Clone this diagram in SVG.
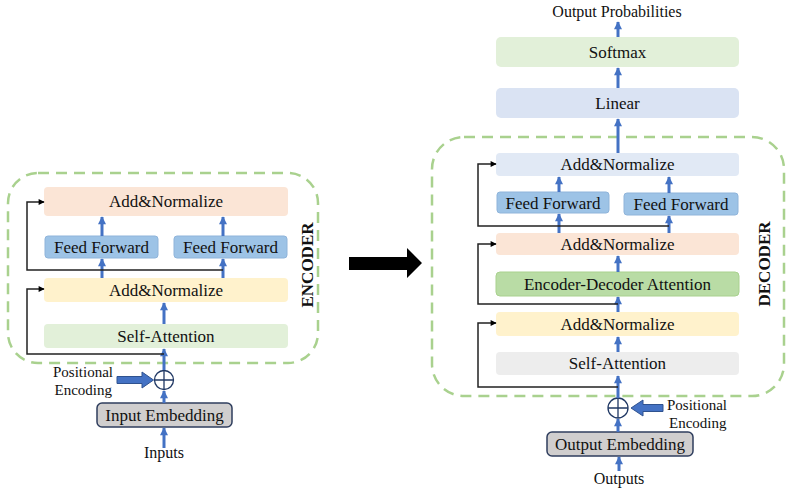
<svg xmlns="http://www.w3.org/2000/svg" width="786" height="489" viewBox="0 0 786 489">
<defs>
<marker id="ba" viewBox="0 0 10 10" refX="9" refY="5" markerWidth="9" markerHeight="8" markerUnits="userSpaceOnUse" orient="auto">
<path d="M0,0 L10,5 L0,10 Z" fill="#4472c4"/>
</marker>
<marker id="ka" viewBox="0 0 10 10" refX="9" refY="5" markerWidth="7" markerHeight="6" markerUnits="userSpaceOnUse" orient="auto">
<path d="M0,0 L10,5 L0,10 Z" fill="#000"/>
</marker>
<style>
text{font-family:"Liberation Serif","Times New Roman",serif;fill:#111;}
.t{font-size:17px;text-anchor:middle;}
.s{font-size:15px;}
.b{stroke:#4472c4;stroke-width:3;fill:none;marker-end:url(#ba);}
.r{stroke:#222;stroke-width:1.5;fill:none;marker-end:url(#ka);}
.box{stroke:none;}
.ff{fill:#9dc3e6;stroke:#8fb4da;stroke-width:1;}
.emb{fill:#d0cece;stroke:#2f3e5e;stroke-width:1.5;}
.dash{fill:none;stroke:#a9d18e;stroke-width:2.5;stroke-dasharray:11 7;}
.circ{fill:#fff;stroke:#203864;stroke-width:1.3;}
.pe{fill:#4472c4;stroke:#2f528f;stroke-width:1;}
.lbl{font-size:17px;font-weight:bold;text-anchor:middle;}
</style>
</defs>

<!-- encoder frame -->
<g id="encoder-frame">
<rect class="dash" x="8" y="173" width="310" height="190" rx="30"/>
<text class="lbl" transform="translate(313,265) rotate(-90)">ENCODER</text>
</g>

<g id="enc-addnorm2"><rect class="box" x="44" y="187" width="244" height="29" rx="4" fill="#fbe5d6"/><text class="t" x="166" y="207">Add&amp;Normalize</text></g>
<g id="enc-ff1"><rect class="ff" x="45" y="236" width="113" height="22" rx="3"/><text class="t" x="101.5" y="253">Feed Forward</text></g>
<g id="enc-ff2"><rect class="ff" x="174" y="236" width="113" height="22" rx="3"/><text class="t" x="230.5" y="253">Feed Forward</text></g>
<g id="enc-addnorm1"><rect class="box" x="44" y="278" width="244" height="24" rx="4" fill="#fff2cc"/><text class="t" x="166" y="296">Add&amp;Normalize</text></g>
<g id="enc-selfatt"><rect class="box" x="44" y="324" width="244" height="24" rx="4" fill="#e2f0d9"/><text class="t" x="166" y="342">Self-Attention</text></g>
<g id="enc-plus"><circle class="circ" cx="164" cy="380" r="9.5"/><path d="M154.5,380 H173.5 M164,370.5 V389.5" stroke="#203864" stroke-width="1.3"/></g>
<g id="enc-pe"><polygon class="pe" points="117,376.5 142,376.5 142,372 153.5,380 142,388 142,383.5 117,383.5"/><text class="s" x="113" y="377" text-anchor="end">Positional</text><text class="s" x="112" y="395" text-anchor="end">Encoding</text></g>
<g id="enc-emb"><rect class="emb" x="97" y="403" width="135" height="24" rx="5"/><text class="t" x="164.5" y="421">Input Embedding</text></g>
<g id="enc-inputs"><text class="t" x="164" y="458" style="font-size:16px">Inputs</text></g>

<!-- transition arrow -->
<g id="big-arrow"><polygon points="349,257 407,257 407,248 422,263 407,278 407,270 349,270" fill="#000"/></g>

<!-- decoder frame -->
<g id="decoder-frame">
<rect class="dash" x="432" y="137" width="352" height="259" rx="32"/>
<text class="lbl" transform="translate(770,264) rotate(-90)">DECODER</text>
</g>

<g id="dec-outprob"><text class="t" x="617" y="17" style="font-size:16px">Output Probabilities</text></g>
<g id="dec-softmax"><rect class="box" x="496" y="37" width="243" height="30" rx="5" fill="#e2f0d9"/><text class="t" x="617.5" y="58">Softmax</text></g>
<g id="dec-linear"><rect class="box" x="496" y="88" width="243" height="30" rx="5" fill="#dae3f3"/><text class="t" x="617.5" y="109">Linear</text></g>
<g id="dec-addnorm3"><rect class="box" x="496" y="153" width="243" height="23" rx="4" fill="#e1e9f5"/><text class="t" x="617.5" y="170">Add&amp;Normalize</text></g>
<g id="dec-ff1"><rect class="ff" x="497" y="192" width="112" height="21" rx="3"/><text class="t" x="553" y="209">Feed Forward</text></g>
<g id="dec-ff2"><rect class="ff" x="624" y="193" width="114" height="22" rx="3"/><text class="t" x="681" y="210">Feed Forward</text></g>
<g id="dec-addnorm2"><rect class="box" x="496" y="233" width="243" height="22" rx="4" fill="#fbe5d6"/><text class="t" x="617.5" y="250">Add&amp;Normalize</text></g>
<g id="dec-encdec"><rect x="496" y="272" width="243" height="24" rx="4" fill="#b9dca5" stroke="#a9d18e" stroke-width="1"/><text class="t" x="617.5" y="290">Encoder-Decoder Attention</text></g>
<g id="dec-addnorm1"><rect class="box" x="496" y="312" width="243" height="24" rx="4" fill="#fff2cc"/><text class="t" x="617.5" y="330">Add&amp;Normalize</text></g>
<g id="dec-selfatt"><rect class="box" x="496" y="352" width="243" height="23" rx="4" fill="#ededed"/><text class="t" x="617.5" y="369">Self-Attention</text></g>
<g id="dec-plus"><circle class="circ" cx="618" cy="408" r="10"/><path d="M608,408 H628 M618,398 V418" stroke="#203864" stroke-width="1.3"/></g>
<g id="dec-pe"><polygon class="pe" points="663,404.5 643,404.5 643,400 631,408 643,416 643,411.5 663,411.5"/><text class="s" x="667" y="410">Positional</text><text class="s" x="669" y="428">Encoding</text></g>
<g id="dec-emb"><rect class="emb" x="547" y="432" width="146" height="24" rx="5"/><text class="t" x="620" y="450">Output Embedding</text></g>
<g id="dec-outputs"><text class="t" x="619" y="484" style="font-size:16px">Outputs</text></g>

<g id="connectors">
<!-- encoder -->
<line class="b" x1="164" y1="448" x2="164" y2="428"/>
<line class="b" x1="164" y1="403" x2="164" y2="391"/>
<line class="b" x1="164" y1="370" x2="164" y2="349"/>
<line class="b" x1="164" y1="324" x2="164" y2="303"/>
<line class="b" x1="102" y1="278" x2="102" y2="259"/>
<line class="b" x1="223" y1="278" x2="223" y2="259"/>
<line class="b" x1="102" y1="236" x2="102" y2="217"/>
<line class="b" x1="223" y1="236" x2="223" y2="217"/>
<path class="r" d="M223,270 H27 V202 H44"/>
<path class="r" d="M164,354 H27 V289 H44"/>
<!-- decoder -->
<line class="b" x1="619" y1="471" x2="619" y2="457"/>
<line class="b" x1="618" y1="432" x2="618" y2="419"/>
<line class="b" x1="618" y1="398" x2="618" y2="376"/>
<line class="b" x1="618" y1="352" x2="618" y2="337"/>
<line class="b" x1="618" y1="312" x2="618" y2="297"/>
<line class="b" x1="618" y1="272" x2="618" y2="256"/>
<line class="b" x1="559" y1="233" x2="559" y2="214"/>
<line class="b" x1="669" y1="233" x2="669" y2="216"/>
<line class="b" x1="559" y1="192" x2="559" y2="177"/>
<line class="b" x1="669" y1="193" x2="669" y2="177"/>
<line class="b" x1="618" y1="153" x2="618" y2="119"/>
<line class="b" x1="618" y1="88" x2="618" y2="68"/>
<line class="b" x1="618" y1="37" x2="618" y2="22"/>
<path class="r" d="M669,226 H478 V164 H496"/>
<path class="r" d="M618,304 H478 V244 H496"/>
<path class="r" d="M618,387 H478 V323 H496"/>
</g>
</svg>
